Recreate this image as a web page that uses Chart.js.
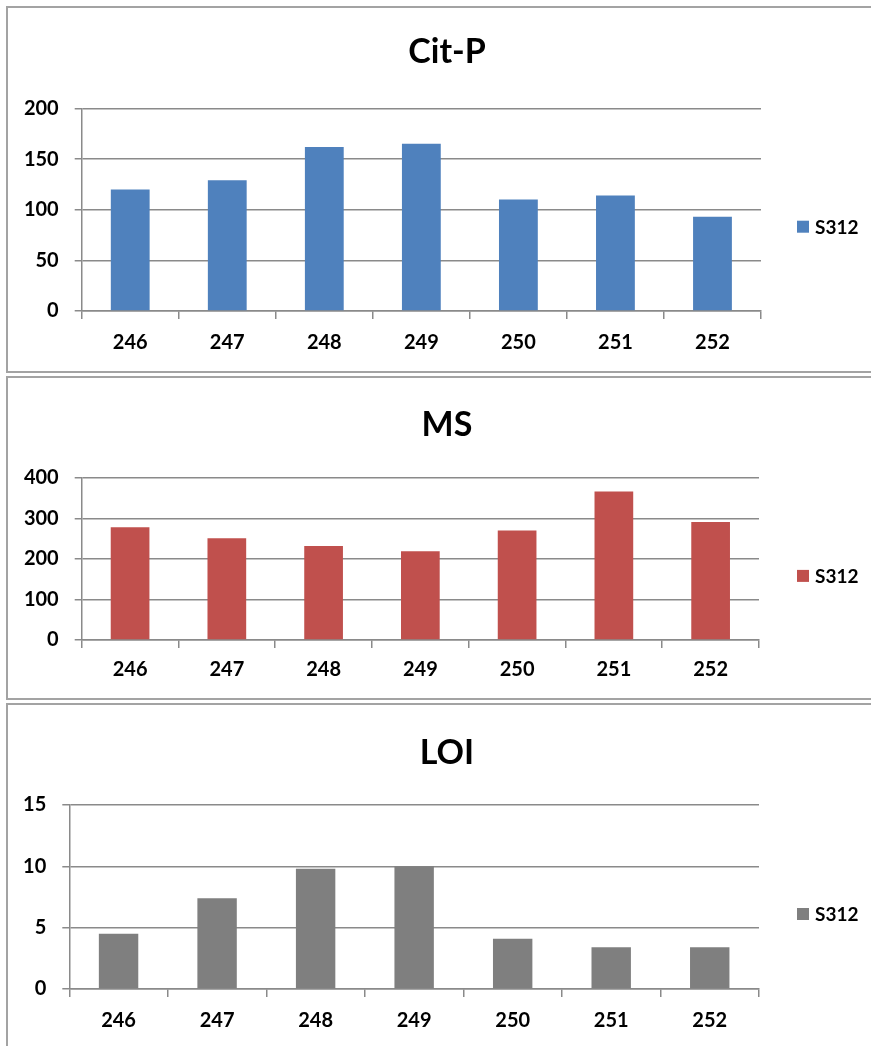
<!DOCTYPE html>
<html>
<head>
<meta charset="utf-8">
<script src="https://cdn.jsdelivr.net/npm/chart.js@4/dist/chart.umd.min.js"></script>
<style>
  html, body { margin: 0; padding: 0; background: #fff; overflow: hidden; }
  body { width: 871px; height: 1046px; position: relative; }
  .panel { position: absolute; left: 6px; width: 882px; box-sizing: border-box;
           border: 2px solid #a3a3a3; background: #fff; }
  .panel canvas { display: block; }
</style>
</head>
<body>
<div class="panel" style="top:6px;height:367px"><canvas id="chartCitP" width="878" height="363"></canvas></div>
<div class="panel" style="top:376px;height:324px"><canvas id="chartMS" width="878" height="320"></canvas></div>
<div class="panel" style="top:703px;height:360px"><canvas id="chartLOI" width="878" height="356"></canvas></div>
<script>
// Sample numbers on the x axis
const categories = ['246', '247', '248', '249', '250', '251', '252'];
const seriesName = 'S312';

// Measured values per sample
const citP = [120, 129, 162, 165, 110, 114, 93];
const ms   = [278, 251, 232, 219, 270, 366, 291];
const loi  = [4.5, 7.4, 9.8, 10, 4.1, 3.4, 3.4];

// Value-axis tick labels
const citPTicks = [0, 50, 100, 150, 200];
const msTicks   = [0, 100, 200, 300, 400];
const loiTicks  = [0, 5, 10, 15];

const FONT = 'Lato, "Open Sans", sans-serif';
const GRID = '#8a8a8a';

// Legend drawn beside the plot, vertically near the plot centre
const sideLegend = {
  id: 'sideLegend',
  afterDraw(chart, args, opts) {
    const { ctx, chartArea } = chart;
    const ds = chart.data.datasets[0];
    const y = (chartArea.top + chartArea.bottom) / 2 + opts.offsetY;
    ctx.save();
    ctx.fillStyle = ds.backgroundColor;
    ctx.fillRect(opts.x, y - 6, 12, 12);
    ctx.fillStyle = '#000';
    ctx.font = 'bold 19px ' + FONT;
    ctx.textBaseline = 'middle';
    ctx.textAlign = 'left';
    ctx.fillText(ds.label, opts.x + 18, y + 1);
    ctx.restore();
  }
};

function makeChart(id, title, values, ticks, color, g) {
  const step = ticks[1] - ticks[0];
  return new Chart(document.getElementById(id), {
    type: 'bar',
    data: {
      labels: categories,
      datasets: [{
        label: seriesName,
        data: values,
        backgroundColor: color,
        borderWidth: 0,
        categoryPercentage: 1.0,
        barPercentage: 0.4
      }]
    },
    options: {
      responsive: false,
      animation: false,
      devicePixelRatio: 1,
      layout: { padding: 0 },
      plugins: {
        legend: { display: false },
        tooltip: { enabled: false },
        title: {
          display: true,
          text: title,
          color: '#000',
          font: { family: FONT, size: 34, weight: 'bold', lineHeight: 1.2 },
          padding: { top: g.titleTop, bottom: g.titleBottom }
        },
        sideLegend: { x: 789, offsetY: 17 }
      },
      scales: {
        x: {
          grid: { drawOnChartArea: false, drawTicks: true, tickLength: 8, color: GRID, lineWidth: 1.5, offset: true },
          border: { display: true, color: GRID, width: 1.5 },
          ticks: { color: '#000', padding: g.xPad, font: { family: FONT, size: 20, weight: 'bold' }, maxRotation: 0 },
          afterFit(scale) { scale.height = g.xHeight; }
        },
        y: {
          min: ticks[0],
          max: ticks[ticks.length - 1],
          ticks: { stepSize: step, color: '#000', padding: 16, font: { family: FONT, size: 20, weight: 'bold' } },
          grid: { color: GRID, lineWidth: 1.5, tickLength: 7, drawTicks: true },
          border: { display: true, color: GRID, width: 1.5 },
          afterFit(scale) { scale.width = g.axisWidth; }
        },
        // empty band on the right that holds the legend
        legendBand: {
          type: 'linear',
          position: 'right',
          grid: { display: false },
          border: { display: false },
          ticks: { display: false },
          afterFit(scale) { scale.width = g.right; }
        }
      }
    },
    plugins: [sideLegend]
  });
}

makeChart('chartCitP', 'Cit-P', citP, citPTicks, '#4F81BD',
  { axisWidth: 73.7, right: 125, titleTop: 24, titleBottom: 35.6, xHeight: 60, xPad: 12 });
makeChart('chartMS', 'MS', ms, msTicks, '#C0504D',
  { axisWidth: 73.7, right: 127, titleTop: 27, titleBottom: 32, xHeight: 58, xPad: 10 });
makeChart('chartLOI', 'LOI', loi, loiTicks, '#7F7F7F',
  { axisWidth: 61.3, right: 127, titleTop: 28, titleBottom: 31.2, xHeight: 72, xPad: 12 });
</script>
</body>
</html>
